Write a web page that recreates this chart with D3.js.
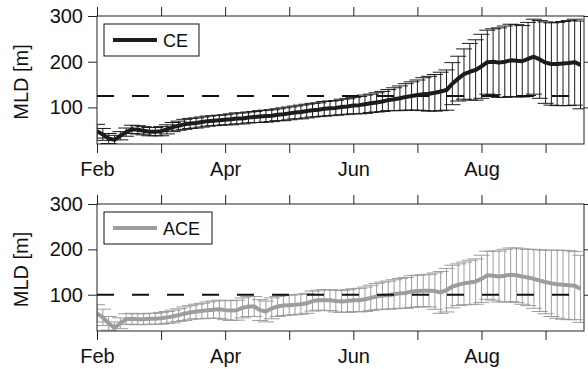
<!DOCTYPE html>
<html>
<head>
<meta charset="utf-8">
<script src="https://cdn.jsdelivr.net/npm/d3@7"></script>
<style>
  body { margin: 0; background: #fff; }
  svg { display: block; font-family: "Liberation Sans", Arial, sans-serif; }
</style>
</head>
<body>
<script>
// month ticks, one per month starting at Feb; only every other one is labelled
const monthLabels = ["Feb", "", "Apr", "", "Jun", "", "Aug", ""];
const yTicks = [100, 200, 300];

// samples every ~1/11 month from 1 Feb
const ceMean = [48, 41, 32, 29, 38, 46, 52, 51, 49, 47, 47,
  48, 52, 57, 60, 63, 65, 66, 68, 70, 71, 72,
  73, 74, 76, 76, 78, 79, 80, 81, 82, 84, 85,
  87, 89, 90, 92, 94, 95, 97, 98, 99, 101, 102,
  104, 105, 107, 109, 111, 113, 116, 118, 120, 123, 125,
  127, 129, 130, 132, 135, 138, 152, 163, 173, 178, 182,
  190, 199, 200, 198, 200, 203, 202, 201, 206, 211, 205,
  198, 195, 195, 196, 197, 199, 193];
const ceSd = [15, 13, 11, 10, 9, 9, 9, 9, 9, 9, 9,
  10, 10, 10, 10, 11, 11, 11, 11, 11, 11, 11,
  11, 12, 12, 12, 12, 12, 13, 13, 13, 13, 14,
  14, 14, 15, 15, 15, 15, 16, 16, 16, 17, 17,
  18, 19, 20, 20, 21, 22, 23, 25, 27, 29, 31,
  33, 36, 38, 40, 42, 44, 46, 49, 55, 62, 66,
  70, 70, 72, 76, 78, 79, 79, 78, 80, 82, 85,
  89, 90, 91, 92, 93, 94, 96];

const aceMean = [59, 50, 37, 27, 37, 46, 47, 46, 46, 47, 47,
  48, 50, 52, 55, 58, 61, 63, 64, 66, 67, 68,
  66, 65, 66, 71, 74, 74, 66, 63, 70, 74, 76,
  77, 78, 79, 81, 86, 88, 88, 88, 86, 85, 86,
  88, 88, 90, 93, 96, 98, 99, 101, 103, 104, 107,
  108, 109, 109, 108, 105, 110, 118, 122, 125, 127, 129,
  135, 143, 142, 140, 142, 144, 143, 140, 138, 135, 131,
  128, 125, 123, 122, 121, 120, 113];
const aceSd = [19, 18, 15, 13, 12, 12, 12, 12, 12, 12, 12,
  13, 13, 14, 14, 15, 15, 16, 17, 18, 19, 20,
  21, 22, 22, 22, 22, 22, 23, 23, 23, 22, 22,
  22, 22, 22, 22, 22, 22, 23, 23, 24, 24, 25,
  25, 26, 27, 28, 29, 30, 31, 32, 33, 34, 35,
  35, 35, 36, 40, 46, 48, 47, 46, 47, 49, 50,
  52, 53, 54, 56, 58, 59, 60, 61, 62, 65, 68,
  70, 73, 75, 76, 76, 75, 74];

const ceThreshold = 125;
const aceThreshold = 100;

const w = 588;
const h = 369;
const left = 97;
const right = 584;

const svg = d3.select("body")
  .append("svg")
  .attr("width", w)
  .attr("height", h);

const x = d3.scaleLinear().domain([0, 7.6]).range([left, right]);

function drawPanel(name, mean, sd, threshold, color, top, bottom) {
  const y = d3.scaleLinear().domain([20, 300]).range([bottom, top]);
  const g = svg.append("g");
  const clipId = "clip-" + name;

  g.append("clipPath")
    .attr("id", clipId)
    .append("rect")
    .attr("x", left)
    .attr("y", top)
    .attr("width", right - left)
    .attr("height", bottom - top);

  const rows = mean.map((m, i) => ({ t: i / 11, m: m, s: sd[i] }));
  const plot = g.append("g").attr("clip-path", `url(#${clipId})`);

  // error bars
  const bars = plot.selectAll("g.bar")
    .data(rows)
    .enter()
    .append("g")
    .attr("class", "bar")
    .attr("stroke", color)
    .attr("stroke-width", 1);
  bars.append("line")
    .attr("x1", (d) => x(d.t))
    .attr("x2", (d) => x(d.t))
    .attr("y1", (d) => y(d.m - d.s))
    .attr("y2", (d) => y(d.m + d.s));
  bars.append("line")
    .attr("x1", (d) => x(d.t) - 8)
    .attr("x2", (d) => x(d.t) + 8)
    .attr("y1", (d) => y(d.m + d.s))
    .attr("y2", (d) => y(d.m + d.s));
  bars.append("line")
    .attr("x1", (d) => x(d.t) - 8)
    .attr("x2", (d) => x(d.t) + 8)
    .attr("y1", (d) => y(d.m - d.s))
    .attr("y2", (d) => y(d.m - d.s));

  // mean line
  plot.append("path")
    .datum(rows)
    .attr("fill", "none")
    .attr("stroke", color)
    .attr("stroke-width", 4)
    .attr("stroke-linejoin", "round")
    .attr("d", d3.line().x((d) => x(d.t)).y((d) => y(d.m)));

  // threshold
  plot.append("line")
    .attr("x1", left)
    .attr("x2", right)
    .attr("y1", y(threshold))
    .attr("y2", y(threshold))
    .attr("stroke", "#111")
    .attr("stroke-width", 2)
    .attr("stroke-dasharray", "17,18");

  // axes
  const tickVals = d3.range(monthLabels.length);
  const styleAxis = (a) => {
    a.select(".domain").remove();
    a.selectAll("line").attr("stroke", "#222");
    a.selectAll("text")
      .attr("fill", "#111")
      .style("font-size", "20px")
      .style("font-family", "'Liberation Sans', Arial, sans-serif");
  };
  g.append("g")
    .attr("transform", `translate(0,${bottom})`)
    .call(d3.axisBottom(x).tickValues(tickVals).tickSize(9).tickPadding(9)
      .tickFormat((i) => monthLabels[i]))
    .call(styleAxis);
  g.append("g")
    .attr("transform", `translate(0,${top})`)
    .call(d3.axisTop(x).tickValues(tickVals).tickSize(9).tickFormat(""))
    .call(styleAxis);
  g.append("g")
    .attr("transform", `translate(${left},0)`)
    .call(d3.axisLeft(y).tickValues(yTicks).tickSize(9).tickPadding(5))
    .call(styleAxis);
  g.append("g")
    .attr("transform", `translate(${right},0)`)
    .call(d3.axisRight(y).tickValues(yTicks).tickSize(9).tickFormat(""))
    .call(styleAxis);

  g.append("rect")
    .attr("x", left)
    .attr("y", top)
    .attr("width", right - left)
    .attr("height", bottom - top)
    .attr("fill", "none")
    .attr("stroke", "#222")
    .attr("stroke-width", 1);

  g.append("text")
    .attr("transform", `translate(28,${(top + bottom) / 2 + 2}) rotate(-90)`)
    .attr("text-anchor", "middle")
    .attr("fill", "#111")
    .style("font-size", "20px")
    .text("MLD [m]");

  // legend
  const lw = name.length === 2 ? 95 : 108;
  const ly = top + 8;
  g.append("rect")
    .attr("x", 104)
    .attr("y", ly)
    .attr("width", lw)
    .attr("height", 32)
    .attr("fill", "#fff")
    .attr("stroke", "#111")
    .attr("stroke-width", 1);
  g.append("line")
    .attr("x1", 113)
    .attr("x2", 157)
    .attr("y1", ly + 16)
    .attr("y2", ly + 16)
    .attr("stroke", color)
    .attr("stroke-width", 4);
  g.append("text")
    .attr("x", 163)
    .attr("y", ly + 22.5)
    .attr("fill", "#111")
    .style("font-size", "18px")
    .text(name);
}

drawPanel("CE", ceMean, ceSd, ceThreshold, "#1c1c1c", 16, 144);
drawPanel("ACE", aceMean, aceSd, aceThreshold, "#9d9d9d", 204, 331);
</script>
</body>
</html>
